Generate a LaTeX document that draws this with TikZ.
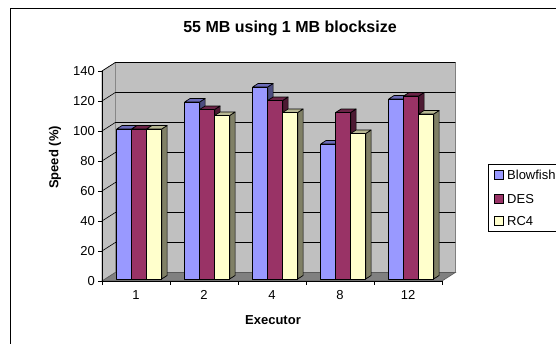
\documentclass[tikz,border=0pt]{standalone}
\usepackage{fontspec}
\setmainfont{Liberation Sans}

\definecolor{wallgray}{HTML}{C0C0C0}
\definecolor{floorgray}{HTML}{808080}
\definecolor{blowfish}{HTML}{9999FF}
\definecolor{blowfishtop}{HTML}{6B6BB8}
\definecolor{blowfishside}{HTML}{4D4D80}
\definecolor{des}{HTML}{993366}
\definecolor{destop}{HTML}{6B2447}
\definecolor{desside}{HTML}{4D1A33}
\definecolor{rc}{HTML}{FFFFCC}
\definecolor{rctop}{HTML}{B8B894}
\definecolor{rcside}{HTML}{808066}

\tikzset{
  barface/.style={draw=black, line width=0.7pt, line join=round},
  gridrule/.style={black, line width=0.6pt},
  ticklabel/.style={font=\fontsize{13}{15}\selectfont, inner sep=1pt},
  axislabel/.style={font=\fontsize{13}{15}\selectfont\bfseries, inner sep=1pt},
  legendkey/.style={draw=black, line width=0.6pt}
}

% one 3D column: left x of its slot on the front plane, value, colour
\newcommand{\speedbar}[3]{%
  \draw[barface, fill=#3side] ({#1+18.3},278.9) -- ({#1+18.3},{278.9-1.5*#2}) -- ({#1+23.6},{275.5-1.5*#2}) -- ({#1+23.6},275.5) -- cycle;
  \draw[barface, fill=#3top] ({#1+3.3},{278.9-1.5*#2}) -- ({#1+18.3},{278.9-1.5*#2}) -- ({#1+23.6},{275.5-1.5*#2}) -- ({#1+8.6},{275.5-1.5*#2}) -- cycle;
  \draw[barface, fill=#3] ({#1+3.3},278.9) rectangle ({#1+18.3},{278.9-1.5*#2});
}

\begin{document}
\begin{tikzpicture}[x=1pt, y=-1pt]
  \clip (0,0) rectangle (556,343);
  \fill[white] (0,0) rectangle (556,343);
  \draw[black, line width=1pt] (10,8) rectangle (620,420);

  % walls and floor
  \draw[fill=wallgray, draw=floorgray, line width=0.6pt] (115.3,272.5) rectangle (455.3,62.5);
  \draw[fill=wallgray, draw=floorgray, line width=0.6pt] (102,281) -- (102,71) -- (115.3,62.5) -- (115.3,272.5) -- cycle;
  \draw[fill=floorgray, draw=floorgray!70!black, line width=0.6pt] (102,281) -- (442,281) -- (455.3,272.5) -- (115.3,272.5) -- cycle;

  % grid
  \draw[gridrule] (102,251) -- (115.3,242.5) -- (455.3,242.5);
  \draw[gridrule] (102,221) -- (115.3,212.5) -- (455.3,212.5);
  \draw[gridrule] (102,191) -- (115.3,182.5) -- (455.3,182.5);
  \draw[gridrule] (102,161) -- (115.3,152.5) -- (455.3,152.5);
  \draw[gridrule] (102,131) -- (115.3,122.5) -- (455.3,122.5);
  \draw[gridrule] (102,101) -- (115.3,92.5) -- (455.3,92.5);
  \draw[gridrule] (102,71) -- (115.3,62.5) -- (455.3,62.5);

  % columns
  \speedbar{113.5}{100}{blowfish}
  \speedbar{128.5}{100}{des}
  \speedbar{143.5}{100}{rc}
  \speedbar{181.5}{118}{blowfish}
  \speedbar{196.5}{113}{des}
  \speedbar{211.5}{109}{rc}
  \speedbar{249.5}{128}{blowfish}
  \speedbar{264.5}{119}{des}
  \speedbar{279.5}{111}{rc}
  \speedbar{317.5}{90}{blowfish}
  \speedbar{332.5}{111}{des}
  \speedbar{347.5}{97}{rc}
  \speedbar{385.5}{120}{blowfish}
  \speedbar{400.5}{122}{des}
  \speedbar{415.5}{110}{rc}

  % axes
  \draw[black, line width=0.8pt] (102,71) -- (102,281) -- (442,281);
  \draw[black, line width=0.6pt] (98,281) -- (102,281);
  \draw[black, line width=0.6pt] (98,251) -- (102,251);
  \draw[black, line width=0.6pt] (98,221) -- (102,221);
  \draw[black, line width=0.6pt] (98,191) -- (102,191);
  \draw[black, line width=0.6pt] (98,161) -- (102,161);
  \draw[black, line width=0.6pt] (98,131) -- (102,131);
  \draw[black, line width=0.6pt] (98,101) -- (102,101);
  \draw[black, line width=0.6pt] (98,71) -- (102,71);
  \draw[black, line width=0.6pt] (102,281) -- (102,285);
  \draw[black, line width=0.6pt] (170,281) -- (170,285);
  \draw[black, line width=0.6pt] (238,281) -- (238,285);
  \draw[black, line width=0.6pt] (306,281) -- (306,285);
  \draw[black, line width=0.6pt] (374,281) -- (374,285);
  \draw[black, line width=0.6pt] (442,281) -- (442,285);

  \node[ticklabel, anchor=east] (v0) at (96,281) {0};
  \node[ticklabel, anchor=east] (v20) at (96,251) {20};
  \node[ticklabel, anchor=east] (v40) at (96,221) {40};
  \node[ticklabel, anchor=east] (v60) at (96,191) {60};
  \node[ticklabel, anchor=east] (v80) at (96,161) {80};
  \node[ticklabel, anchor=east] (v100) at (96,131) {100};
  \node[ticklabel, anchor=east] (v120) at (96,101) {120};
  \node[ticklabel, anchor=east] (v140) at (96,71) {140};

  \node[ticklabel] (e1) at (136,295) {1};
  \node[ticklabel] (e2) at (204,295) {2};
  \node[ticklabel] (e4) at (272,295) {4};
  \node[ticklabel] (e8) at (340,295) {8};
  \node[ticklabel] (e12) at (408,295) {12};

  \node[axislabel] (executor) at (273,320) {Executor};
  \node[axislabel, rotate=90] (speed) at (55,157.5) {Speed (\%)};
  \node[font=\fontsize{16}{19}\selectfont\bfseries, inner sep=1pt] (title) at (290,28) {55 MB using 1 MB blocksize};

  % legend
  \draw[black, line width=0.6pt] (488,164) rectangle (600,231);
  \draw[legendkey, fill=blowfish] (494.5,170.5) rectangle (503.5,179.5);
  \draw[legendkey, fill=des] (494.5,194.5) rectangle (503.5,203.5);
  \draw[legendkey, fill=rc] (494.5,216.5) rectangle (503.5,225.5);
  \node[ticklabel, anchor=west] (lblowfish) at (506,175) {Blowfish};
  \node[ticklabel, anchor=west] (ldes) at (506,199) {DES};
  \node[ticklabel, anchor=west] (lrc) at (506,221) {RC4};
\end{tikzpicture}
\end{document}
